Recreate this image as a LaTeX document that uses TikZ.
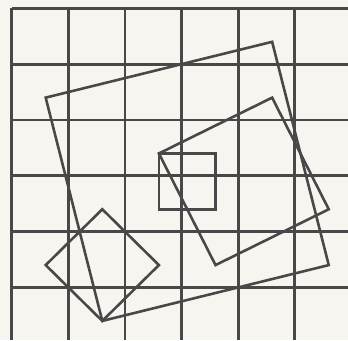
\documentclass[tikz,border=0pt]{standalone}
\usepackage{tikz}
\usepackage{xcolor}
\definecolor{PaperWhite}{HTML}{F7F5EF}
\definecolor{InkGray}{HTML}{4D4648}

\begin{document}
\begin{tikzpicture}[x=1cm, y=0.986cm,
    gridline/.style={InkGray, line width=1.4pt},
    figline/.style={InkGray, line width=1.3pt, line join=miter}]
                % paper and frame
                \fill[PaperWhite] (-0.207,0.056) rectangle (5.94,6.149);
                \useasboundingbox (-0.207,0.056) rectangle (5.94,6.149);
                \foreach \i in {0,...,5} {
                    \draw[gridline] (\i,0.056) -- (\i,6);
                }
                \foreach \j in {1,...,6} {
                    \draw[gridline] (0,\j) -- (5.94,\j);
                }
                % the squares
                \draw[figline] (0.6,4.4) -- (4.6,5.4) -- (5.6,1.4) -- (1.6,0.4) -- cycle;
                \draw[figline] (2.6,3.4) -- (4.6,4.4) -- (5.6,2.4) -- (3.6,1.4) -- cycle;
                \draw[figline] (2.6,2.4) rectangle (3.6,3.4);
                \draw[figline] (1.6,2.4) -- (2.6,1.4) -- (1.6,0.4) -- (0.6,1.4) -- cycle;
            \end{tikzpicture}
\end{document}
